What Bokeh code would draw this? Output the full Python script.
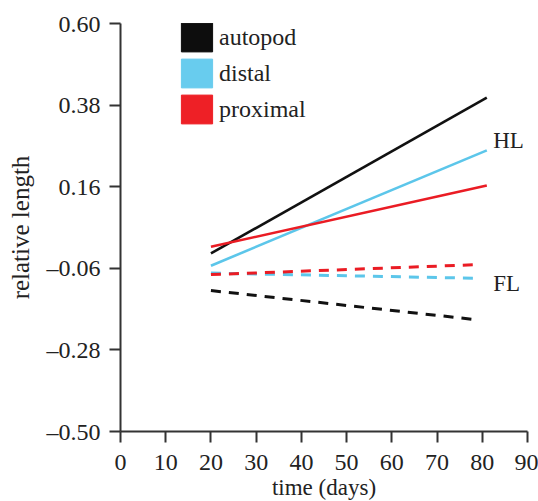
from bokeh.plotting import figure
from bokeh.models import Range1d, FixedTicker, Legend, LegendItem, ColumnDataSource, Title
from bokeh.core.properties import value
from bokeh.embed import file_html
from bokeh.resources import INLINE

# ---- data ----
series = ["autopod", "distal", "proximal"]
colors = ["#111111", "#5cc6ea", "#ea1c24"]
legend_colors = ["#0d0d0d", "#68ccee", "#ee2026"]

hl_days = [20, 81]
hl_autopod = [-0.02, 0.40]
hl_distal = [-0.053, 0.258]
hl_proximal = [-0.002, 0.163]

fl_days = [20, 79]
fl_autopod = [-0.12, -0.199]
fl_distal = [-0.073, -0.087]
fl_proximal = [-0.077, -0.050]

y_ticks = [0.60, 0.38, 0.16, -0.06, -0.28, -0.50]
y_tick_labels = ["0.60", "0.38", "0.16", "\u20130.06", "\u20130.28", "\u20130.50"]
x_ticks = [0, 10, 20, 30, 40, 50, 60, 70, 80, 90]

group_labels = ["HL", "FL"]
group_label_x = [82.4, 82.4]
group_label_y = [0.285, -0.101]

x_title = "time (days)"
y_title = "relative length"

FONT = "Liberation Serif"
TXT = "#222222"

p = figure(width=538, height=501, output_backend="svg", toolbar_location=None,
           x_range=Range1d(0, 90), y_range=Range1d(-0.5, 0.6),
           min_border_left=120, min_border_right=11, min_border_top=23, min_border_bottom=70)
p.outline_line_color = None
p.xgrid.visible = False
p.ygrid.visible = False
p.background_fill_color = "white"

hl = [hl_autopod, hl_distal, hl_proximal]
fl = [fl_autopod, fl_distal, fl_proximal]
for vals, c in zip(hl, colors):
    p.line(hl_days, vals, line_color=c, line_width=2.6)
for vals, c in zip(fl, colors):
    p.line(fl_days, vals, line_color=c, line_width=3, line_dash="10 8")

src = ColumnDataSource(dict(x=group_label_x, y=group_label_y, t=group_labels))
p.text(x="x", y="y", text="t", source=src, text_font=value(FONT), text_font_size="23px",
       text_color=TXT, text_baseline="middle", text_align="left")

# legend: filled squares (quads with a single NaN entry so only the legend swatch shows)
nan = float("nan")
items = []
for name, c in zip(series, legend_colors):
    r = p.quad(left=[nan], right=[nan], top=[nan], bottom=[nan], fill_color=c, line_color=c)
    items.append(LegendItem(label=name, renderers=[r]))
legend = Legend(items=items, location=(57, 304), padding=0, margin=0, spacing=0,
                glyph_width=39, glyph_height=36, label_height=36, label_standoff=3,
                border_line_color=None, background_fill_alpha=0,
                label_text_font=FONT, label_text_font_size="24px", label_text_color=TXT)
p.add_layout(legend, "center")

for ax in (p.xaxis[0], p.yaxis[0]):
    ax.axis_line_width = 2
    ax.axis_line_color = "#333333"
    ax.major_tick_line_width = 2
    ax.major_tick_line_color = "#333333"
    ax.major_tick_out = 11
    ax.major_tick_in = 0
    ax.minor_tick_line_color = None
    ax.major_label_text_font = FONT
    ax.major_label_text_font_size = "24px"
    ax.major_label_text_color = TXT
    ax.axis_label_text_font = FONT
    ax.axis_label_text_font_style = "normal"
    ax.axis_label_text_color = TXT

p.xaxis.ticker = FixedTicker(ticks=x_ticks)
p.xaxis.major_label_standoff = 12

p.add_layout(Title(text=x_title, align="center", text_font=FONT, text_font_size="23px",
                   text_font_style="normal", text_color=TXT, standoff=0, offset=0), "below")

p.yaxis.ticker = FixedTicker(ticks=y_ticks)
p.yaxis.major_label_overrides = {t: l for t, l in zip(y_ticks, y_tick_labels)}
p.yaxis.major_label_standoff = 9
p.yaxis.axis_label = y_title
p.yaxis.axis_label_text_font_size = "25px"
p.yaxis.axis_label_standoff = 10

open("out.html", "w").write(file_html(p, INLINE))
